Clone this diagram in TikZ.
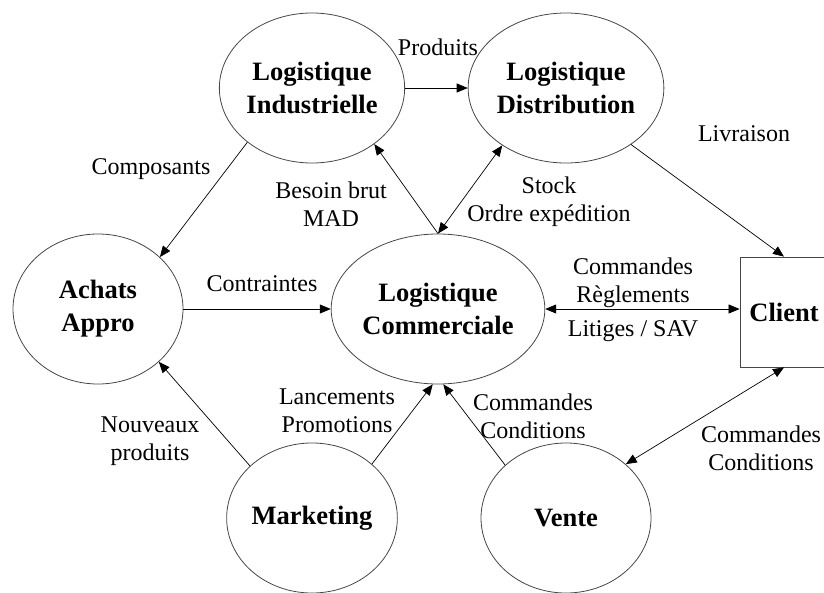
\documentclass[tikz,border=0pt]{standalone}
\usepackage{fontspec}
\setmainfont{Liberation Serif}
\usetikzlibrary{shapes.geometric,arrows.meta}
\definecolor{linegray}{RGB}{70,70,70}
\begin{document}
\begin{tikzpicture}[x=1pt,y=-1pt,
  proc/.style={ellipse, draw=linegray, line width=0.8pt, minimum width=170pt, minimum height=150pt,
    inner sep=0pt, align=center, font=\fontsize{26.5}{33}\selectfont\bfseries},
  clientbox/.style={rectangle, draw=linegray, line width=0.8pt, minimum width=88pt, minimum height=110pt,
    inner sep=0pt, font=\fontsize{26.5}{33}\selectfont\bfseries},
  lbl/.style={inner sep=0pt, align=center, font=\fontsize{24}{28}\selectfont},
  flow/.style={draw=black, line width=0.7pt, -{Triangle[length=11pt,width=9pt]}},
  biflow/.style={draw=black, line width=0.7pt, {Triangle[length=11pt,width=9pt]}-{Triangle[length=11pt,width=9pt]}}]
\useasboundingbox (0,0) rectangle (824,592);

% processes
\node[proc] (LI) at (312,88) {Logistique\\Industrielle};
\node[proc] (LD) at (566,88) {Logistique\\Distribution};
\node[proc] (Ach) at (98,309) {Achats\\Appro};
\node[proc] (LC) at (438,309) {Logistique\\Commerciale};
\node[proc] (Mkt) at (312,518) {Marketing};
\node[proc] (Vte) at (566,518) {Vente};
\node[clientbox] (Cli) at (784,312) {Client};

% connectors
\draw[flow] (LI.east) -- (LD.west);
\draw[flow] (LI.220) -- (Ach.40);
\draw[flow] (LC.north) -- (LI.-42);
\draw[biflow] (LC.north) -- (LD.222);
\draw[flow] (LD.-41) -- (Cli.north);
\draw[flow] (Ach.east) -- (LC.west);
\draw[biflow] (LC.east) -- (LC.east -| Cli.west);
\draw[flow] (Mkt.140) -- (Ach.-41);
\draw[flow] (Mkt.42) -- (LC.266);
\draw[flow] (Vte.139) -- (LC.274);
\draw[biflow] (Cli.south) -- (Vte.42);

% labels
\node[lbl] (lProd) at (438,47) {Produits};
\node[lbl] (lComp) at (151,169.5) {Composants};
\node[lbl] (lBes) at (331,204.5) {Besoin brut\\MAD};
\node[lbl] (lStock) at (549,202) {Stock\\Ordre expédition};
\node[lbl] (lLiv) at (744,134) {Livraison};
\node[lbl] (lCont) at (262,284) {Contraintes};
\node[lbl] (lCmd) at (633,299.5) {Commandes\\Règlements\\[6pt]Litiges / SAV};
\node[lbl] (lNouv) at (150,441.5) {Nouveaux\\produits};
\node[lbl] (lLanc) at (337,411) {Lancements\\Promotions};
\node[lbl] (lVte) at (533,416) {Commandes\\Conditions};
\node[lbl] (lCli) at (761,448.5) {Commandes\\Conditions};
\end{tikzpicture}
\end{document}
